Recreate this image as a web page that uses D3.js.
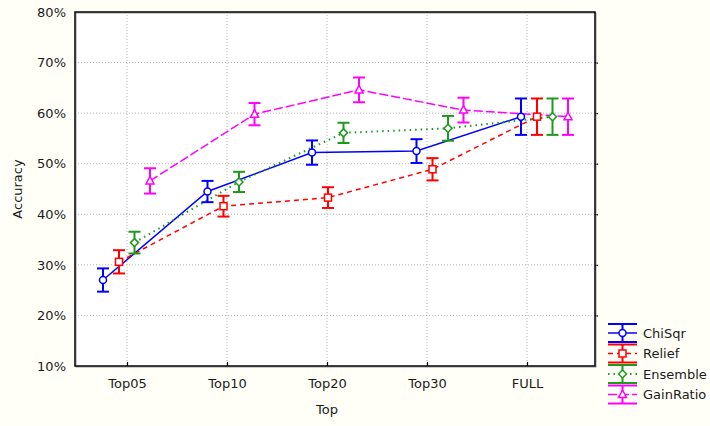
<!DOCTYPE html>
<html>
<head>
    <meta http-equiv="Content-Type" content="text/html;charset=utf-8">
    <title>Accuracy by feature subset</title>
    <script type="text/javascript" src="https://d3js.org/d3.v7.min.js"></script>
    <style>
        html, body {
            margin: 0;
            padding: 0;
            background: #fffff7;
        }
        text {
            font-family: "DejaVu Sans", Verdana, sans-serif;
            font-size: 13px;
            fill: #1a1a1a;
        }
        .grid line {
            stroke: #b4b4b4;
            stroke-width: 1;
            stroke-dasharray: 1, 2;
        }
    </style>
</head>
<body>
<script type="text/javascript">

    // data (percent)
    var categories = ["Top05", "Top10", "Top20", "Top30", "FULL"];
    var seriesNames = ["ChiSqr", "Relief", "Ensemble", "GainRatio"];
    var chiSqr      = [27.0, 44.5, 52.2, 52.5, 59.3];
    var chiSqrErr   = [2.3, 2.1, 2.4, 2.35, 3.6];
    var relief      = [30.6, 41.6, 43.3, 48.9, 59.3];
    var reliefErr   = [2.3, 2.05, 2.05, 2.2, 3.6];
    var ensemble    = [34.4, 46.4, 56.1, 57.0, 59.3];
    var ensembleErr = [2.15, 2.0, 2.0, 2.45, 3.6];
    var gainRatio   = [46.6, 59.8, 64.6, 60.6, 59.3];
    var gainRatioErr= [2.5, 2.2, 2.45, 2.45, 3.6];
    var yTicks = [10, 20, 30, 40, 50, 60, 70, 80];

    var W = 710, H = 426;
    var margin = {top: 12, right: 115, bottom: 60, left: 75};
    var width = W - margin.left - margin.right,
        height = H - margin.top - margin.bottom;

    var colorTable = ["#0000ff", "#ff0000", "#1c9a1c", "#ff00ff"];
    var dashTable = [null, "5,4", "1.5,4", "9,3"];
    var markerTable = ["circle", "square", "diamond", "triangle"];
    // statistica spreads the series sideways around each category
    var offsets = [-0.24, -0.08, 0.075, 0.23];
    var stretch = 1.045;

    var series = [chiSqr, relief, ensemble, gainRatio].map(function (vals, s) {
        var errs = [chiSqrErr, reliefErr, ensembleErr, gainRatioErr][s];
        return {
            name: seriesNames[s],
            values: vals.map(function (v, i) { return {i: i, v: v, e: errs[i]}; })
        };
    });

    var svg = d3.select("body").append("svg")
        .attr("width", W).attr("height", H);
    var g = svg.append("g")
        .attr("transform", "translate(" + margin.left + "," + margin.top + ")");

    var x = d3.scaleLinear().domain([-0.52, 4.68]).range([0, width]);
    var y = d3.scaleLinear().domain([10, 80]).range([height, 0]);
    var px = function (d, s) { return x(d.i * stretch + offsets[s]); };

    // plot background
    g.append("rect").attr("width", width).attr("height", height).attr("fill", "#fff");

    // grid
    var grid = g.append("g").attr("class", "grid");
    grid.selectAll(".hg").data(yTicks.slice(1, -1)).enter().append("line")
        .attr("x1", 0).attr("x2", width)
        .attr("y1", function (d) { return y(d); }).attr("y2", function (d) { return y(d); });
    grid.selectAll(".vg").data(categories).enter().append("line")
        .attr("y1", 0).attr("y2", height)
        .attr("x1", function (d, i) { return x(i); }).attr("x2", function (d, i) { return x(i); });

    // axes
    var yAxis = d3.axisLeft(y).tickValues(yTicks)
        .tickFormat(function (d) { return d + "%"; }).tickSize(0).tickPadding(9);
    g.append("g").call(yAxis).call(function (a) { a.select(".domain").remove(); })
        .selectAll("text").style("font-size", "13px").attr("fill", "#1a1a1a");

    var xAxis = d3.axisBottom(x).tickValues(d3.range(categories.length))
        .tickFormat(function (d) { return categories[d]; }).tickSize(-4).tickPadding(13);
    var xa = g.append("g").attr("transform", "translate(0," + height + ")").call(xAxis);
    xa.select(".domain").remove();
    xa.selectAll("line").attr("stroke", "#000").attr("stroke-width", 1.2);
    xa.selectAll("text").style("font-size", "13px").attr("fill", "#1a1a1a");

    var yRight = d3.axisRight(y).tickValues(yTicks.slice(1, -1)).tickSize(3).tickFormat("");
    var yr = g.append("g").attr("transform", "translate(" + width + ",0)").call(yRight);
    yr.select(".domain").remove();
    yr.selectAll("line").attr("stroke", "#000").attr("stroke-width", 1.2);

    // frame with slight shadow
    g.append("rect").attr("x", 1).attr("y", 1).attr("width", width).attr("height", height)
        .attr("fill", "none").attr("stroke", "#999").attr("stroke-width", 1);
    g.append("rect").attr("width", width).attr("height", height)
        .attr("fill", "none").attr("stroke", "#000").attr("stroke-width", 1.5);

    g.append("text").attr("text-anchor", "middle")
        .attr("transform", "translate(" + (22 - margin.left) + "," + (height / 2) + ") rotate(-90)")
        .text("Accuracy");
    g.append("text").attr("text-anchor", "middle")
        .attr("x", x(2)).attr("y", height + 48)
        .text("Top");

    // lines
    series.forEach(function (sr, s) {
        var line = d3.line()
            .x(function (d) { return px(d, s); })
            .y(function (d) { return y(d.v); });
        g.append("path").datum(sr.values)
            .attr("d", line)
            .attr("fill", "none")
            .attr("stroke", colorTable[s])
            .attr("stroke-width", s === 2 ? 2 : 1.5)
            .attr("stroke-dasharray", dashTable[s]);
    });

    function drawMarker(sel, type, color) {
        var m;
        if (type === "circle") {
            m = sel.append("circle").attr("r", 3.5);
        } else if (type === "square") {
            m = sel.append("rect").attr("x", -3.5).attr("y", -3.5).attr("width", 7).attr("height", 7);
        } else if (type === "diamond") {
            m = sel.append("path").attr("d", "M0,-4L4,0L0,4L-4,0Z");
        } else {
            m = sel.append("path").attr("d", "M0,-4.5L4,3L-4,3Z");
        }
        m.attr("fill", "#fff").attr("stroke", color).attr("stroke-width", 1.5);
    }

    // error bars + markers
    series.forEach(function (sr, s) {
        var pts = g.selectAll(".pt" + s).data(sr.values).enter().append("g")
            .attr("transform", function (d) { return "translate(" + px(d, s) + ",0)"; });
        pts.append("line")
            .attr("y1", function (d) { return y(d.v + d.e); })
            .attr("y2", function (d) { return y(d.v - d.e); })
            .attr("stroke", colorTable[s]).attr("stroke-width", 2);
        [1, -1].forEach(function (sign) {
            pts.append("line")
                .attr("x1", -6).attr("x2", 6)
                .attr("y1", function (d) { return y(d.v + sign * d.e); })
                .attr("y2", function (d) { return y(d.v + sign * d.e); })
                .attr("stroke", colorTable[s]).attr("stroke-width", 2);
        });
        pts.each(function (d) {
            var mg = d3.select(this).append("g").attr("transform", "translate(0," + y(d.v) + ")");
            drawMarker(mg, markerTable[s], colorTable[s]);
        });
    });

    // legend
    var legend = svg.append("g").attr("transform", "translate(608,333)");
    var items = legend.selectAll(".legend").data(seriesNames).enter().append("g")
        .attr("transform", function (d, i) { return "translate(0," + (i * 20.5) + ")"; });
    items.each(function (d, s) {
        var it = d3.select(this);
        var c = colorTable[s];
        it.append("line").attr("x1", 0).attr("x2", 29).attr("y1", 0).attr("y2", 0)
            .attr("stroke", c).attr("stroke-width", s === 2 ? 2 : 1.5).attr("stroke-dasharray", dashTable[s]);
        it.append("line").attr("x1", 14.5).attr("x2", 14.5).attr("y1", -9).attr("y2", 9)
            .attr("stroke", c).attr("stroke-width", 2);
        [-9, 9].forEach(function (yy) {
            it.append("line").attr("x1", 0).attr("x2", 29).attr("y1", yy).attr("y2", yy)
                .attr("stroke", c).attr("stroke-width", 2);
        });
        var mg = it.append("g").attr("transform", "translate(14.5,0)");
        drawMarker(mg, markerTable[s], c);
        it.append("text").attr("x", 35).attr("dy", "0.35em").text(d);
    });

</script>
</body>
</html>
